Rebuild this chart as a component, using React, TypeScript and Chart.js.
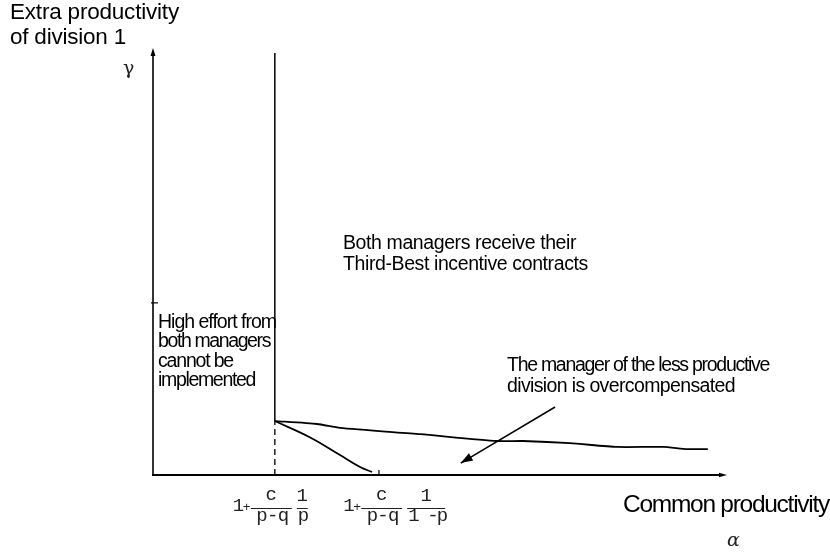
import React, { useEffect, useRef } from 'react';
import { Chart, registerables } from 'chart.js';

Chart.register(...registerables);

// ---- data (diagram coordinates: alpha on x, gamma on y; both 0..10) ----
const boundaryX = [2.13, 2.13];
const boundaryY = [1.27, 9.93];
const dashedX = [2.13, 2.13];
const dashedY = [0, 1.27];
const upperX = [2.13, 2.87, 3.27, 4.67, 6.01, 6.47, 7.29, 8.11, 8.92, 9.34, 9.7];
const upperY = [1.27, 1.2, 1.11, 0.96, 0.8, 0.8, 0.75, 0.66, 0.66, 0.61, 0.61];
const lowerX = [2.13, 2.74, 3.27, 3.62, 3.83];
const lowerY = [1.27, 0.89, 0.47, 0.19, 0.07];
const pointerX = [7.03, 5.38];
const pointerY = [1.6, 0.28];
const xTickValues = [3.95];
const yTickValues = [4.05];
const formulaNumerators = ['c', '1'];
const formulaDenominators = [['p-q', 'p'], ['p-q', '1 -p']];

const yTitle = ['Extra productivity', 'of division 1'];
const xTitle = 'Common productivity';
const regionThirdBest = ['Both managers receive their', 'Third-Best incentive contracts'];
const regionNoEffort = ['High effort from', 'both managers', 'cannot be', 'implemented'];
const regionOver = ['The manager of the less productive', 'division is overcompensated'];

const pts = (xs: number[], ys: number[]) => xs.map((x, i) => ({ x, y: ys[i] }));

function fitText(ctx: CanvasRenderingContext2D, text: string, x: number, y: number, width: number, font: string) {
  ctx.font = font;
  (ctx as any).letterSpacing = '0px';
  const w = ctx.measureText(text).width;
  const ls = (width - w) / text.length;
  (ctx as any).letterSpacing = ls.toFixed(2) + 'px';
  ctx.fillText(text, x, y);
  (ctx as any).letterSpacing = '0px';
}

const diagramPlugin = {
  id: 'diagram',
  beforeDatasetsDraw(chart: any) {
    const ctx: CanvasRenderingContext2D = chart.ctx;
    const xs = chart.scales.x;
    const ys = chart.scales.y;
    const x0 = xs.getPixelForValue(0);
    const x1 = xs.getPixelForValue(10);
    const y0 = ys.getPixelForValue(0);
    const y1 = ys.getPixelForValue(10);
    ctx.save();
    ctx.strokeStyle = '#000';
    ctx.fillStyle = '#000';
    // y axis
    ctx.lineWidth = 1.6;
    ctx.beginPath();
    ctx.moveTo(x0, y0 + 1);
    ctx.lineTo(x0, y1 + 4);
    ctx.stroke();
    ctx.beginPath();
    ctx.moveTo(x0, y1 - 2);
    ctx.lineTo(x0 - 2.5, y1 + 6);
    ctx.lineTo(x0 + 2.5, y1 + 6);
    ctx.closePath();
    ctx.fill();
    // x axis
    ctx.lineWidth = 2;
    ctx.beginPath();
    ctx.moveTo(x0 - 1, y0);
    ctx.lineTo(x1 - 3, y0);
    ctx.stroke();
    ctx.beginPath();
    ctx.moveTo(x1 + 2, y0);
    ctx.lineTo(x1 - 6, y0 - 2.2);
    ctx.lineTo(x1 - 6, y0 + 2.2);
    ctx.closePath();
    ctx.fill();
    // ticks
    ctx.lineWidth = 1.2;
    xTickValues.forEach((v) => {
      const px = xs.getPixelForValue(v);
      ctx.beginPath();
      ctx.moveTo(px, y0);
      ctx.lineTo(px, y0 - 5);
      ctx.stroke();
    });
    yTickValues.forEach((v) => {
      const py = ys.getPixelForValue(v);
      ctx.beginPath();
      ctx.moveTo(x0 - 2, py);
      ctx.lineTo(x0 + 5, py);
      ctx.stroke();
    });
    ctx.restore();
  },
  afterDatasetsDraw(chart: any) {
    const ctx: CanvasRenderingContext2D = chart.ctx;
    const xs = chart.scales.x;
    const ys = chart.scales.y;
    ctx.save();
    ctx.fillStyle = '#000';
    ctx.strokeStyle = '#000';
    // arrowhead of pointer
    const ax = xs.getPixelForValue(pointerX[1]);
    const ay = ys.getPixelForValue(pointerY[1]);
    const bx = xs.getPixelForValue(pointerX[0]);
    const by = ys.getPixelForValue(pointerY[0]);
    const ang = Math.atan2(ay - by, ax - bx);
    const L = 12, W = 4.2;
    ctx.beginPath();
    ctx.moveTo(ax, ay);
    ctx.lineTo(ax - L * Math.cos(ang) + W * Math.sin(ang), ay - L * Math.sin(ang) - W * Math.cos(ang));
    ctx.lineTo(ax - L * Math.cos(ang) - W * Math.sin(ang), ay - L * Math.sin(ang) + W * Math.cos(ang));
    ctx.closePath();
    ctx.fill();

    ctx.textBaseline = 'alphabetic';
    ctx.textAlign = 'left';
    const sans = '"Liberation Sans", Arial, sans-serif';
    // axis titles
    fitText(ctx, yTitle[0], 10, 19, 169, `22.5px ${sans}`);
    fitText(ctx, yTitle[1], 10, 44, 116, `22.5px ${sans}`);
    ctx.font = '19px "DejaVu Serif", serif';
    ctx.fillStyle = '#222';
    ctx.fillText('\u03b3', 123, 74);
    ctx.fillStyle = '#000';
    fitText(ctx, xTitle, 623, 512, 206, `24.5px ${sans}`);
    ctx.font = 'italic 19px "DejaVu Serif", serif';
    ctx.fillStyle = '#222';
    ctx.fillText('\u03b1', 727, 546);
    ctx.fillStyle = '#000';

    // region texts
    const w1 = [233, 245];
    regionThirdBest.forEach((t, i) => fitText(ctx, t, 343, 249 + i * 21, w1[i], `19.5px ${sans}`));
    const w2 = [118, 112, 75, 97];
    regionNoEffort.forEach((t, i) => fitText(ctx, t, 158, 328 + i * 19.4, w2[i], `19.5px ${sans}`));
    const w3 = [262, 228];
    regionOver.forEach((t, i) => fitText(ctx, t, 507, 371 + i * 21, w3[i], `19.5px ${sans}`));

    // formula tick labels
    const mono = '"Liberation Mono", "Courier New", monospace';
    const starts = [1.43, 3.36];
    ctx.fillStyle = '#222';
    ctx.strokeStyle = '#222';
    ctx.lineWidth = 1;
    formulaDenominators.forEach((den, i) => {
      const sx = xs.getPixelForValue(starts[i]);
      ctx.textAlign = 'left';
      ctx.font = `19px ${mono}`;
      ctx.fillText('1', sx - 2, 511);
      ctx.font = `13px ${mono}`;
      ctx.fillText('+', sx + 8, 511);
      // first fraction
      const b1s = sx + 16, b1e = sx + 57;
      ctx.beginPath();
      ctx.moveTo(b1s, 508.5);
      ctx.lineTo(b1e, 508.5);
      ctx.stroke();
      ctx.textAlign = 'center';
      ctx.font = `19px ${mono}`;
      ctx.fillText(formulaNumerators[0], (b1s + b1e) / 2, 500);
      fitText(ctx, den[0], (b1s + b1e) / 2 + 1, 521, 32, `19px ${mono}`);
      // second fraction
      const dw = den[1].length > 1 ? 38 : 11;
      const b2s = sx + 62, b2e = b2s + dw;
      ctx.beginPath();
      ctx.moveTo(b2s, 508.5);
      ctx.lineTo(b2e, 508.5);
      ctx.stroke();
      ctx.textAlign = 'center';
      ctx.font = `19px ${mono}`;
      ctx.fillText(formulaNumerators[1], (b2s + b2e) / 2, 501);
      fitText(ctx, den[1], (b2s + b2e) / 2 + 1, 521, dw, `19px ${mono}`);
    });
    ctx.restore();
  },
};

export default function App() {
  const ref = useRef<HTMLCanvasElement | null>(null);
  useEffect(() => {
    if (!ref.current) return;
    const line = (data: any[], extra: any = {}) => ({
      data,
      borderColor: '#000',
      borderWidth: 1.6,
      pointRadius: 0,
      fill: false,
      clip: false,
      tension: 0,
      ...extra,
    });
    const chart = new Chart(ref.current, {
      type: 'line',
      data: {
        datasets: [
          line(pts(boundaryX, boundaryY), { borderWidth: 1.5 }),
          line(pts(dashedX, dashedY), { borderWidth: 1.3, borderDash: [6, 4] }),
          line(pts(upperX, upperY), { borderWidth: 1.8, tension: 0.2 }),
          line(pts(lowerX, lowerY), { borderWidth: 1.8, tension: 0.4 }),
          line(pts(pointerX, pointerY), { borderWidth: 1.5 }),
        ],
      },
      options: {
        responsive: false,
        animation: false,
        devicePixelRatio: 1,
        layout: { padding: { left: 153, top: 50, right: 105, bottom: 81 } },
        scales: {
          x: { type: 'linear', min: 0, max: 10, display: false },
          y: { type: 'linear', min: 0, max: 10, display: false },
        },
        plugins: { legend: { display: false }, tooltip: { enabled: false } },
        events: [],
      },
      plugins: [diagramPlugin],
    } as any);
    return () => chart.destroy();
  }, []);
  return (
    <div style={{ position: 'fixed', left: 0, top: 0, width: 830, height: 556, background: '#fff' }}>
      <canvas ref={ref} width={830} height={556} style={{ display: 'block', width: 830, height: 556 }} />
    </div>
  );
}
